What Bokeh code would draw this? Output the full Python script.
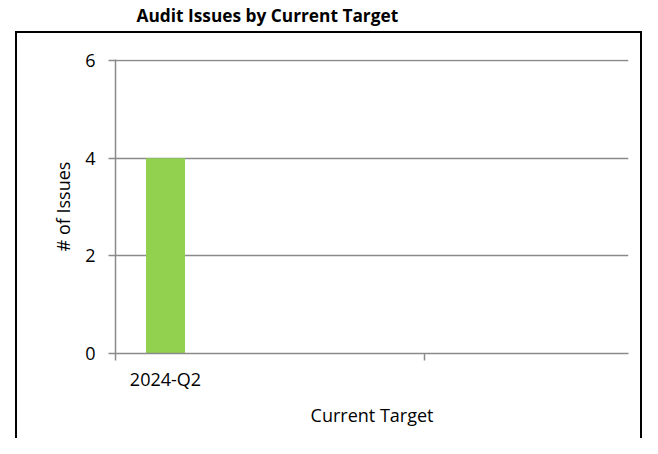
from bokeh.plotting import figure
from bokeh.models import Range1d, FixedTicker, ColumnDataSource, Title, InlineStyleSheet
from bokeh.embed import file_html
from bokeh.resources import INLINE

categories = ["2024-Q2"]
issues = [4]
y_ticks = [0, 2, 4, 6]
x_tick_marks = [0, 3.09]

FONT = "Open Sans"
GRAY = "#8a8a8a"

xs = [i + 0.5 for i in range(len(categories))]
src = ColumnDataSource(dict(x=xs, top=issues, cat=categories))

p = figure(width=642, height=438, output_backend="svg", toolbar_location=None,
           x_range=Range1d(0, 5.13), y_range=Range1d(0, 6.02),
           min_border_left=115, min_border_right=14, min_border_top=59,
           min_border_bottom=85, title="Audit Issues by Current Target")

p.vbar(x="x", top="top", width=0.39, bottom=0, source=src,
       fill_color="#92D050", line_color=None)

p.outline_line_color = None
p.xgrid.visible = False
p.ygrid.ticker = FixedTicker(ticks=y_ticks)
p.ygrid.grid_line_color = GRAY
p.ygrid.grid_line_width = 1.5

p.title.text_font = FONT
p.title.text_font_size = "17.3px"
p.title.text_font_style = "bold"
p.title.text_color = "black"
p.title.align = "left"
p.title.offset = 21
p.title.standoff = 0

spacer = Title(text=" ", text_font_size="10px", standoff=20)
p.add_layout(spacer, "above")

ya = p.yaxis[0]
ya.ticker = FixedTicker(ticks=y_ticks)
ya.axis_line_color = GRAY
ya.axis_line_width = 1.5
ya.major_tick_line_color = GRAY
ya.major_tick_line_width = 1.5
ya.major_tick_out = 7
ya.major_tick_in = 0
ya.minor_tick_line_color = None
ya.major_label_text_font = FONT
ya.major_label_text_font_size = "18px"
ya.major_label_text_color = "black"
ya.major_label_standoff = 13
ya.axis_label = "# of Issues"
ya.axis_label_text_font = FONT
ya.axis_label_text_font_size = "18px"
ya.axis_label_text_font_style = "normal"
ya.axis_label_text_color = "black"
ya.axis_label_standoff = 7

xa = p.xaxis[0]
xa.ticker = FixedTicker(ticks=xs, minor_ticks=x_tick_marks)
xa.major_label_overrides = {x: c for x, c in zip(xs, categories)}
xa.axis_line_color = GRAY
xa.axis_line_width = 1.5
xa.major_tick_line_color = None
xa.major_tick_out = 0
xa.major_tick_in = 0
xa.minor_tick_line_color = GRAY
xa.minor_tick_line_width = 1.5
xa.minor_tick_out = 7
xa.minor_tick_in = 0
xa.major_label_text_font = FONT
xa.major_label_text_font_size = "18px"
xa.major_label_text_color = "black"
xa.major_label_standoff = 6
xa.axis_label = "Current Target"
xa.axis_label_text_font = FONT
xa.axis_label_text_font_size = "18px"
xa.axis_label_text_font_style = "normal"
xa.axis_label_text_color = "black"
xa.axis_label_standoff = 9

p.stylesheets = [InlineStyleSheet(css="""
:host::after {
  content: "";
  position: absolute;
  left: 15px;
  top: 31px;
  width: 627px;
  height: 407px;
  box-sizing: border-box;
  border: 2px solid black;
  border-bottom: none;
  pointer-events: none;
}
""")]

open("out.html", "w").write(file_html(p, INLINE))
